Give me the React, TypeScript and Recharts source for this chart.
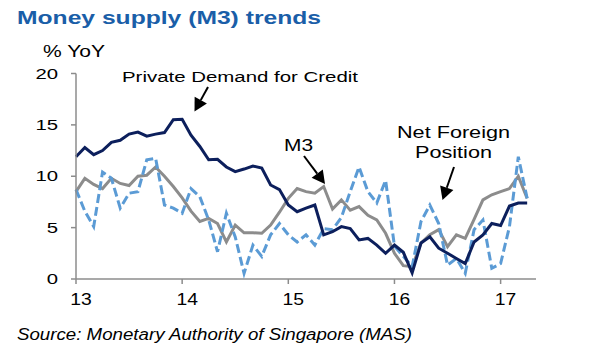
import React from "react";
import { LineChart, Line, XAxis, YAxis } from "recharts";

// monthly, Jan 2013 .. Apr 2017, % YoY
const privateCredit = [
  11.9, 12.8, 12.1, 12.5, 13.3, 13.5, 14.1, 14.3, 13.9, 14.1,
  14.25, 15.5, 15.55, 14.0, 12.9, 11.6, 11.65, 10.9, 10.45, 10.7,
  11.0, 10.8, 9.15, 8.7, 7.2, 6.55, 6.9, 7.2, 4.3, 4.6,
  5.1, 4.9, 3.8, 3.95, 3.3, 2.5, 3.3, 2.6, 0.6, 3.5,
  4.1, 3.0, 2.5, 2.0, 1.5, 3.6, 4.3, 5.4, 5.2, 7.1,
  7.4, 7.4,
];

const m3 = [
  8.5, 9.8, 9.2, 8.8, 9.8, 9.3, 9.1, 10.0, 10.1, 10.9,
  10.0, 9.0, 7.9, 6.6, 5.6, 5.9, 5.4, 3.6, 5.25, 4.5,
  4.5, 4.45, 5.25, 6.5, 7.85, 8.8, 8.5, 8.35, 9.0, 6.8,
  7.7, 6.7, 7.05, 6.2, 5.75, 4.45, 2.5, 1.3, 1.2, 3.5,
  4.3, 4.8, 3.15, 4.3, 3.95, 5.8, 7.7, 8.2, 8.5, 8.8,
  10.0, 7.85,
];

const netForeign = [
  8.7, 6.6, 5.1, 10.4, 9.8, 6.9, 8.35, 8.5, 11.6, 11.75,
  7.2, 6.9, 6.4, 8.8, 8.0, 5.75, 2.65, 6.4, 4.1, 0.55,
  3.3, 2.2, 4.3, 5.4, 4.3, 3.6, 4.3, 3.3, 4.9, 4.8,
  6.0, 8.5, 10.9, 8.5, 7.4, 9.6, 3.2, 2.2, 1.2, 5.6,
  7.2, 5.4, 1.35, 2.0, 0.55, 4.8, 5.75, 1.05, 1.5, 5.1,
  11.9, 7.85,
];

const xTicks = [0, 12, 24, 36, 48];
const xTickLabels = ["13", "14", "15", "16", "17"];
const yTicks = [0, 5, 10, 15, 20];

const data = privateCredit.map((v, i) => ({
  m: i,
  pdc: v,
  m3: m3[i],
  nfp: netForeign[i],
}));

const FONT = "'Liberation Sans', Arial, Helvetica, sans-serif";
const AXIS = "#8c8c8c";

function YTick({ x, y, payload }: any) {
  const label = String(payload.value);
  return (
    <text
      x={x}
      y={y + 5}
      textAnchor="end"
      fontSize={14}
      fontFamily={FONT}
      fill="#000"
      textLength={label.length * 11.3}
      lengthAdjust="spacingAndGlyphs"
    >
      {label}
    </text>
  );
}

function XTick({ x, y, payload }: any) {
  const idx = xTicks.indexOf(payload.value);
  const label = xTickLabels[idx] ?? "";
  return (
    <text
      x={x + 5}
      y={y + 19}
      textAnchor="middle"
      fontSize={17}
      fontFamily={FONT}
      fill="#000"
      textLength={21.5}
      lengthAdjust="spacingAndGlyphs"
    >
      {label}
    </text>
  );
}

function Arrow({ x1, y1, x2, y2 }: { x1: number; y1: number; x2: number; y2: number }) {
  const dx = x2 - x1;
  const dy = y2 - y1;
  const len = Math.hypot(dx, dy);
  const ux = dx / len;
  const uy = dy / len;
  const head = 13;
  const half = 7;
  const bx = x2 - ux * head;
  const by = y2 - uy * head;
  const pts = [
    `${x2},${y2}`,
    `${bx - uy * half},${by + ux * half}`,
    `${bx + uy * half},${by - ux * half}`,
  ].join(" ");
  return (
    <g>
      <line x1={x1} y1={y1} x2={bx} y2={by} stroke="#000" strokeWidth={2} />
      <polygon points={pts} fill="#000" />
    </g>
  );
}

export default function App() {
  return (
    <div
      style={{
        position: "absolute",
        left: 0,
        top: 0,
        width: 600,
        height: 360,
        background: "#fff",
      }}
    >
      <LineChart
        width={600}
        height={360}
        data={data}
        margin={{ top: 73.5, right: 64, left: 16, bottom: 51 }}
      >
        <XAxis
          dataKey="m"
          type="number"
          domain={[0, 52]}
          ticks={xTicks}
          tick={<XTick />}
          tickSize={5}
          tickMargin={2}
          height={30}
          axisLine={{ stroke: AXIS, strokeWidth: 1.5 }}
          tickLine={{ stroke: AXIS, strokeWidth: 1.5 }}
        />
        <YAxis
          domain={[0, 20]}
          ticks={yTicks}
          tick={<YTick />}
          tickSize={5}
          tickMargin={13}
          width={60}
          axisLine={{ stroke: AXIS, strokeWidth: 1.5 }}
          tickLine={{ stroke: AXIS, strokeWidth: 1.5 }}
        />
        <Line
          dataKey="m3"
          type="linear"
          stroke="#8c8c8c"
          strokeWidth={3}
          dot={false}
          isAnimationActive={false}
        />
        <Line
          dataKey="nfp"
          type="linear"
          stroke="#5b9bd5"
          strokeWidth={3}
          strokeDasharray="9 4"
          dot={false}
          isAnimationActive={false}
        />
        <Line
          dataKey="pdc"
          type="linear"
          stroke="#0c1f5c"
          strokeWidth={3}
          dot={false}
          isAnimationActive={false}
        />
      </LineChart>

      <svg
        width={600}
        height={360}
        style={{ position: "absolute", left: 0, top: 0, pointerEvents: "none" }}
        fontFamily={FONT}
      >
        <text
          x={17}
          y={23.5}
          fontSize={19}
          fontWeight="bold"
          fill="#1a5ea8"
          textLength={304}
          lengthAdjust="spacingAndGlyphs"
        >
          Money supply (M3) trends
        </text>
        <text x={43} y={56.5} fontSize={16} textLength={62} lengthAdjust="spacingAndGlyphs">
          % YoY
        </text>

        <text x={122} y={81.5} fontSize={15.5} textLength={236} lengthAdjust="spacingAndGlyphs">
          Private Demand for Credit
        </text>
        <Arrow x1={208} y1={87} x2={194.5} y2={111.5} />

        <text x={284} y={151} fontSize={16} textLength={29} lengthAdjust="spacingAndGlyphs">
          M3
        </text>
        <Arrow x1={304} y1={156} x2={325} y2={184} />

        <text x={397} y={138} fontSize={16} textLength={113} lengthAdjust="spacingAndGlyphs">
          Net Foreign
        </text>
        <text x={415} y={158} fontSize={16} textLength={77} lengthAdjust="spacingAndGlyphs">
          Position
        </text>
        <Arrow x1={454} y1={167} x2={442.5} y2={200} />

        <text
          x={17}
          y={340}
          fontSize={16}
          fontStyle="italic"
          textLength={395}
          lengthAdjust="spacingAndGlyphs"
        >
          Source: Monetary Authority of Singapore (MAS)
        </text>
      </svg>
    </div>
  );
}
